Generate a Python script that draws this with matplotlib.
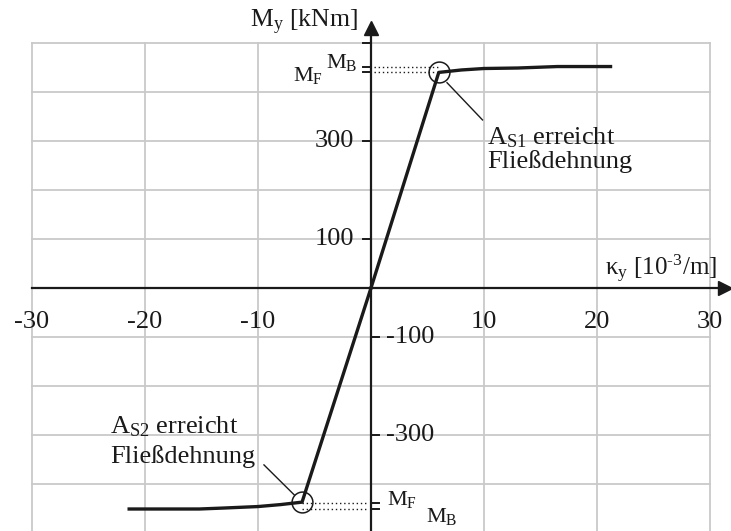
import matplotlib
matplotlib.use("Agg")
import matplotlib.pyplot as plt

plt.rcParams['font.family'] = ['Liberation Serif', 'DejaVu Serif']
plt.rcParams['mathtext.fontset'] = 'custom'
plt.rcParams['mathtext.rm'] = 'Liberation Serif'
plt.rcParams['mathtext.it'] = 'Liberation Serif:italic'

# moment-curvature data
kappa_pos = [0, 6.0, 8, 10, 13, 16.5, 21.2]
moment_pos = [0, 440, 445, 448, 449, 452, 452]
kappa_neg = [0, -6.1, -8, -10, -13, -15.2, -21.4]
moment_neg = [0, -437, -442, -446, -449, -451, -451]

M_F = 440
M_B = 452
M_F_neg = -438
M_B_neg = -452

x_grid = [-30, -20, -10, 10, 20, 30]
y_grid = [-400, -300, -200, -100, 100, 200, 300, 400, 500]
x_ticklabels = [-30, -20, -10, 10, 20, 30]
y_ticks_left = [100, 300]
y_ticks_right = [-100, -300]

GRID = '#c9c9c9'
INK = '#1a1a1a'

fig = plt.figure(figsize=(7.31, 5.31), dpi=100)
ax = fig.add_axes([0, 0, 1, 1])
ax.set_xlim(-32.83, 31.86)
ax.set_ylim(-495.9, 587.8)
ax.axis('off')

# grid
for xg in x_grid:
    ax.plot([xg, xg], [-500, 500], color=GRID, lw=1.3, zorder=1)
for yg in y_grid:
    ax.plot([-30, 30], [yg, yg], color=GRID, lw=1.3, zorder=1)

# axes with arrows
ax.plot([-30, 31.2], [0, 0], color=INK, lw=1.6, zorder=3)
ax.plot([0, 0], [-500, 530], color=INK, lw=1.6, zorder=3)
ax.plot([31.3], [0], marker='>', ms=10, color=INK, zorder=4, clip_on=False)
ax.plot([0], [530], marker='^', ms=10, color=INK, zorder=4)

# tick marks
tl = 0.75
for yv in y_ticks_left + [500, M_F, M_B]:
    ax.plot([-tl, 0], [yv, yv], color=INK, lw=1.4, zorder=3)
for yv in y_ticks_right + [M_F_neg, M_B_neg]:
    ax.plot([0, tl], [yv, yv], color=INK, lw=1.4, zorder=3)

# dotted helper lines
ax.plot([0.3, 6.0], [M_B, M_B], color=INK, lw=1, ls=(0, (1, 2)), zorder=3)
ax.plot([0.3, 6.0], [M_F, M_F], color=INK, lw=1, ls=(0, (1, 2)), zorder=3)
ax.plot([-6.1, -0.3], [M_F_neg, M_F_neg], color=INK, lw=1, ls=(0, (1, 2)), zorder=3)
ax.plot([-6.1, -0.3], [M_B_neg, M_B_neg], color=INK, lw=1, ls=(0, (1, 2)), zorder=3)

# curve
ax.plot(kappa_pos, moment_pos, color=INK, lw=2.4, zorder=5)
ax.plot(kappa_neg, moment_neg, color=INK, lw=2.4, zorder=5)

# yield circles
ax.plot([kappa_pos[1]], [moment_pos[1]], marker='o', ms=15, mfc='none', mec=INK, mew=1.1, zorder=6)
ax.plot([kappa_neg[1]], [moment_neg[1]], marker='o', ms=15, mfc='none', mec=INK, mew=1.1, zorder=6)

# leader lines
ax.plot([6.73, 9.87], [419, 343], color=INK, lw=1, zorder=6)
ax.plot([-9.47, -6.8], [-361, -422], color=INK, lw=1, zorder=6)

# tick labels
fs = 19
for xv in x_ticklabels:
    ax.text(xv, -69, str(xv), ha='center', va='center', fontsize=fs, color=INK)
for yv in y_ticks_left:
    ax.text(-1.5, yv, str(yv), ha='right', va='center', fontsize=fs, color=INK)
for yv in y_ticks_right:
    ax.text(1.3, yv, str(yv), ha='left', va='center', fontsize=fs, color=INK)

# axis labels
ax.text(-1.2, 541, r'M$_\mathrm{y}$ [kNm]', ha='right', va='center', fontsize=18.5, color=INK)
ax.text(30.6, 40, 'κ$_\\mathrm{y}$ [10$^{\u2010\\mathrm{3}}$/m]', ha='right', va='center',
        fontsize=18, color=INK)

# M_F / M_B labels
fm = 16
ax.text(-2.57, 461, r'M$_\mathrm{B}$', ha='center', va='center', fontsize=fm, color=INK)
ax.text(-5.6, 433, r'M$_\mathrm{F}$', ha='center', va='center', fontsize=fm, color=INK)
ax.text(2.74, -431, r'M$_\mathrm{F}$', ha='center', va='center', fontsize=fm, color=INK)
ax.text(6.3, -467, r'M$_\mathrm{B}$', ha='center', va='center', fontsize=fm, color=INK)

# annotations
ax.text(10.3, 306, r'A$_\mathrm{S1}$ erreicht', ha='left', va='center', fontsize=fs, color=INK)
ax.text(10.3, 259, 'Fließdehnung', ha='left', va='center', fontsize=fs, color=INK)
ax.text(-23.1, -284, r'A$_\mathrm{S2}$ erreicht', ha='left', va='center', fontsize=fs, color=INK)
ax.text(-23.1, -343, 'Fließdehnung', ha='left', va='center', fontsize=fs, color=INK)

fig.savefig('out.png', dpi=100, facecolor='white')
